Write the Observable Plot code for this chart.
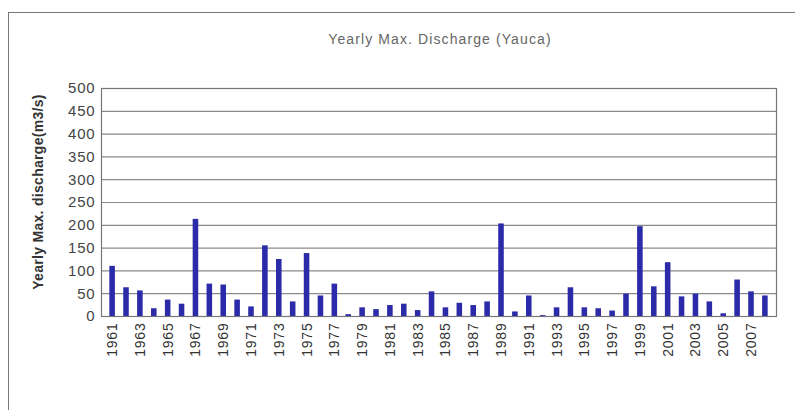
<!DOCTYPE html>
<html>
<head>
<meta charset="utf-8">
<script src="https://cdn.jsdelivr.net/npm/d3@7"></script>
<script src="https://cdn.jsdelivr.net/npm/@observablehq/plot@0.6"></script>
<style>
  html, body { margin: 0; padding: 0; background: #fff; }
  #wrap { position: relative; width: 795px; height: 410px; overflow: hidden; font-family: "Liberation Sans", Arial, sans-serif; }
  #frame { position: absolute; left: 8px; top: 12px; width: 800px; height: 420px; border-left: 1.5px solid #777; border-top: 1.5px solid #777; box-sizing: border-box; }
  #title { position: absolute; left: 0; width: 880px; top: 31px; text-align: center; font-size: 14px; letter-spacing: 1.1px; color: #666; white-space: nowrap; }
  #ylabel { position: absolute; left: 38px; top: 192px; transform: translate(-50%, -50%) rotate(-90deg); font-size: 14px; font-weight: bold; color: #333; white-space: nowrap; letter-spacing: 0.3px; }
  #chart { position: absolute; left: 0; top: 0; }
</style>
</head>
<body>
<div id="wrap">
  <div id="chart"></div>
  <div id="frame"></div>
  <div id="title"></div>
  <div id="ylabel"></div>
</div>
<script>
const title = "Yearly Max. Discharge (Yauca)";
const yLabel = "Yearly Max. discharge(m3/s)";
const years = d3.range(1961, 2009);
const discharge = [
  110, 63, 56, 17, 36, 27, 213, 71, 69, 36,
  21, 155, 125, 32, 138, 45, 71, 4, 19, 15,
  24, 27, 13, 54, 19, 29, 24, 32, 203, 10,
  45, 2, 19, 63, 19, 17, 12, 49, 197, 65,
  118, 43, 49, 32, 6, 80, 54, 45
];
const yTicks = [0, 50, 100, 150, 200, 250, 300, 350, 400, 450, 500];
const xTickLabels = years.filter(y => y % 2 === 1);

const data = years.map((year, i) => ({year, value: discharge[i]}));

document.getElementById("title").textContent = title;
document.getElementById("ylabel").textContent = yLabel;

const chart = Plot.plot({
  width: 795,
  height: 410,
  marginLeft: 101,
  marginRight: 19,
  marginTop: 88,
  marginBottom: 94,
  style: { fontFamily: "Liberation Sans, Arial, sans-serif", background: "transparent" },
  x: { type: "band", domain: years, padding: 0.6, align: 0.5 },
  y: { domain: [0, 500] },
  marks: [
    Plot.ruleY(yTicks, { stroke: "#8a8a8a", strokeWidth: 1.2 }),
    Plot.barY(data, { x: "year", y: "value", fill: "#2b2aa8" }),
    Plot.frame({ stroke: "#777", strokeWidth: 1.2 }),
    Plot.axisY({ ticks: yTicks, tickSize: 0, tickPadding: 6, fontSize: 15, label: null, color: "#444" }),
    Plot.axisX({ ticks: xTickLabels, tickFormat: d => String(d), tickSize: 0, tickPadding: 6, tickRotate: -90, fontSize: 14, label: null, color: "#333" })
  ]
});
chart.querySelectorAll('g[aria-label="y-axis tick label"] text, g[aria-label="x-axis tick label"] text').forEach(t => t.style.letterSpacing = "0.8px");
document.getElementById("chart").appendChild(chart);
</script>
</body>
</html>
